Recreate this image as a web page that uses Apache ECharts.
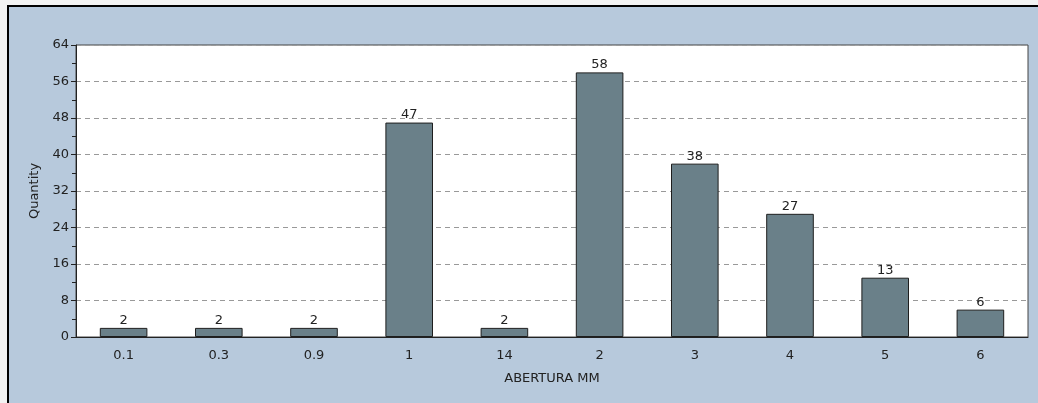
<!DOCTYPE html>
<html><head><meta charset="utf-8">
<script src="https://cdn.jsdelivr.net/npm/echarts@6/dist/echarts.min.js"></script>
<style>
html,body{margin:0;padding:0;background:#f2f2f2;width:1038px;height:403px;overflow:hidden;}
#panel{position:absolute;left:7px;top:5px;width:1031px;height:398px;box-sizing:border-box;border-top:2px solid #000;border-left:2px solid #000;background:#b7c9dc;}
#c{position:absolute;left:0;top:0;width:1038px;height:403px;}
</style></head><body>
<div id="panel"></div>
<div id="c"></div>
<script>
const categories = ['0.1','0.3','0.9','1','14','2','3','4','5','6'];
const quantities = [2,2,2,47,2,58,38,27,13,6];
const yTicks = {min:0, max:64, interval:8};
const xName = 'ABERTURA MM';
const yName = 'Quantity';

const chart = echarts.init(document.getElementById('c'), null, {renderer:'canvas'});
const font = 'DejaVu Sans, Verdana, sans-serif';
const fs = 13;
chart.setOption({
  animation:false,
  backgroundColor:'transparent',
  grid:{left:76,top:45,right:10,bottom:66,show:true,backgroundColor:'#fff',borderColor:'#444',borderWidth:1},
  xAxis:{
    type:'category', data:categories,
    name:xName, nameLocation:'middle', nameGap:35,
    nameTextStyle:{fontFamily:font,fontSize:fs,color:'#222'},
    axisLine:{lineStyle:{color:'#222',width:1}},
    axisTick:{alignWithLabel:true,length:4,lineStyle:{color:'#222'}},
    axisLabel:{fontFamily:font,fontSize:fs,color:'#222',margin:12},
    splitLine:{show:false}
  },
  yAxis:{
    type:'value', min:yTicks.min, max:yTicks.max, interval:yTicks.interval,
    name:yName, nameLocation:'middle', nameGap:31, nameRotate:90,
    nameTextStyle:{fontFamily:font,fontSize:fs,color:'#222'},
    axisLine:{show:true,lineStyle:{color:'#222',width:1}},
    axisTick:{show:true,length:5,lineStyle:{color:'#222'}},
    minorTick:{show:true,splitNumber:2,length:4,lineStyle:{color:'#222'}},
    axisLabel:{fontFamily:font,fontSize:fs,color:'#222',margin:7},
    splitLine:{show:true,lineStyle:{color:'#999',type:[5,4],width:1}}
  },
  series:[{
    type:'bar', data:quantities, barWidth:'50%',
    itemStyle:{color:'#6a8089',borderColor:'#1e1e1e',borderWidth:1},
    label:{show:true,position:'top',distance:1,fontFamily:font,fontSize:fs,color:'#222'}
  }]
});
</script>
</body></html>
